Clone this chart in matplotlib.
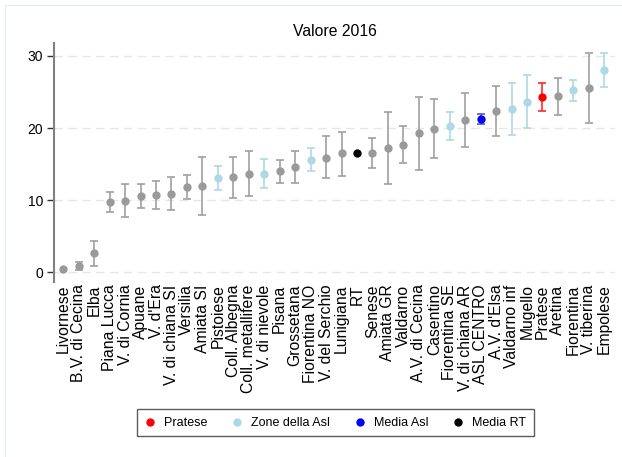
import matplotlib
matplotlib.use("Agg")
import matplotlib.pyplot as plt
from matplotlib.lines import Line2D
from matplotlib.patches import Rectangle

plt.rcParams["font.family"] = ["Liberation Sans", "DejaVu Sans"]

zone = ["Livornese", "B.V. di Cecina", "Elba", "Piana Lucca", "V. di Cornia",
        "Apuane", "V. d'Era", "V. di chiana SI", "Versilia", "Amiata SI",
        "Pistoiese", "Coll. Albegna", "Coll. metallifere", "V. di nievole",
        "Pisana", "Grossetana", "Fiorentina NO", "V. del Serchio", "Lunigiana",
        "RT", "Senese", "Amiata GR", "Valdarno", "A.V. di Cecina", "Casentino",
        "Fiorentina SE", "V. di chiana AR", "ASL CENTRO", "A.V. d'Elsa",
        "Valdarno inf", "Mugello", "Pratese", "Aretina", "Fiorentina",
        "V. tiberina", "Empolese"]
valore = [0.42, 0.92, 2.72, 9.75, 9.89, 10.58, 10.68, 10.86, 11.83, 11.97,
          13.12, 13.22, 13.63, 13.59, 14.01, 14.60, 15.62, 15.89, 16.50,
          16.55, 16.59, 17.20, 17.70, 19.28, 19.92, 20.29, 21.08, 21.26,
          22.37, 22.65, 23.66, 24.27, 24.49, 25.28, 25.56, 28.10]
inf = [0.42, 0.32, 0.87, 8.32, 7.63, 8.92, 8.82, 8.60, 10.21, 7.99,
       11.37, 10.30, 10.54, 11.65, 12.39, 12.39, 14.05, 13.04, 13.40,
       16.55, 14.51, 12.20, 15.12, 14.19, 15.81, 18.35, 17.42, 20.57,
       18.90, 19.08, 20.06, 22.41, 21.86, 23.80, 20.75, 25.70]
sup = [0.42, 1.39, 4.38, 11.18, 12.20, 12.29, 12.62, 13.26, 13.50, 15.99,
       14.70, 15.99, 16.82, 15.71, 15.62, 16.82, 17.20, 18.86, 19.50,
       16.55, 18.67, 22.23, 20.29, 24.35, 24.00, 22.19, 24.91, 22.00,
       25.88, 26.30, 27.40, 26.30, 26.95, 26.67, 30.46, 30.46]
gruppo = ["altro"] * 10 + ["asl", "altro", "altro", "asl", "altro", "altro",
          "asl", "altro", "altro", "rt", "altro", "altro", "altro", "altro",
          "altro", "asl", "altro", "media", "altro", "asl", "asl", "pratese",
          "altro", "asl", "altro", "asl"]

COL = {"altro": "#9a9a9a", "asl": "#add8e6", "media": "#0000ff",
       "rt": "#000000", "pratese": "#ff0000"}
ECOL = {"altro": "#a0a0a0", "asl": "#add8e6", "media": "#5a5aa6",
        "rt": "#000000", "pratese": "#ff2a2a"}

fig = plt.figure(figsize=(6.22, 4.57), dpi=100)
ax = fig.add_axes([0.0868, 0.3836, 0.9019, 0.5224])

# faint outer frame
fig.patches.append(Rectangle((5 / 622, -0.1), 1.2, 1 - 5 / 457 + 0.1,
                             transform=fig.transFigure, fill=False,
                             edgecolor="#e4eef0", lw=1.0))

for i, (v, lo, hi, g) in enumerate(zip(valore, inf, sup, gruppo)):
    if hi > lo:
        ax.errorbar(i, v, yerr=[[v - lo], [hi - v]], fmt="none",
                    ecolor=ECOL[g], elinewidth=1.2, capsize=3.2, capthick=1.2,
                    zorder=2)
    ax.plot(i, v, "o", color=COL[g], ms=6, mec="none", zorder=3)

ax.set_xlim(-0.6, 35.69)
ax.set_ylim(-1.3, 31.8)
ax.set_yticks([0, 10, 20, 30])
ax.set_xticks(range(len(zone)))
ax.set_xticklabels(zone, rotation=90, fontsize=11.3)
ax.tick_params(axis="x", length=0, pad=2)
ax.tick_params(axis="y", length=5, width=1, color="#333333", labelsize=10,
               pad=3)
ax.yaxis.grid(True, color="#e6e6e6", ls=(0, (6, 4)), lw=1)
ax.set_axisbelow(True)
for s in ["top", "right", "bottom"]:
    ax.spines[s].set_visible(False)
ax.spines["left"].set_color("#808080")
ax.spines["left"].set_linewidth(1.5)
ax.set_title("Valore 2016", fontsize=11.3, pad=5)

handles = [Line2D([], [], ls="none", marker="o", ms=6, mec="none", color=c)
           for c in ["#ff0000", "#add8e6", "#0000ff", "#000000"]]
leg = fig.legend(handles, ["Pratese", "Zone della Asl", "Media Asl", "Media RT"],
                 ncol=4, loc="center", bbox_to_anchor=(0.5386, 0.0744),
                 fontsize=9, frameon=True, fancybox=False, handlelength=1,
                 handletextpad=0.6, columnspacing=1.9, borderpad=0.6)
leg.get_frame().set_edgecolor("#333333")
leg.get_frame().set_linewidth(1)

fig.savefig("out.png", dpi=100)
